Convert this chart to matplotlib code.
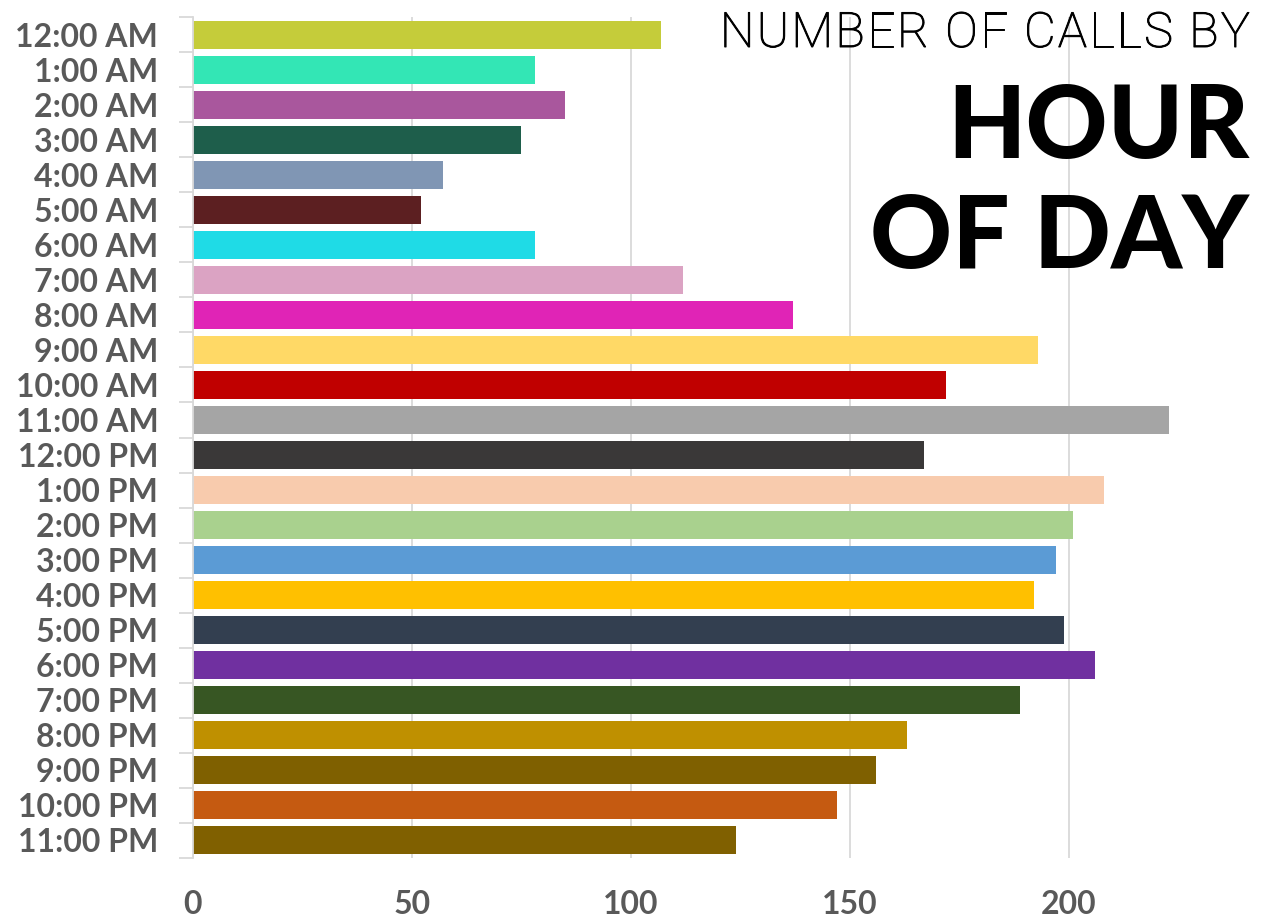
import numpy as np
import matplotlib
matplotlib.use("Agg")
import matplotlib.pyplot as plt
import matplotlib.patheffects as pe

# data
hours = ["12:00 AM", "1:00 AM", "2:00 AM", "3:00 AM", "4:00 AM", "5:00 AM",
         "6:00 AM", "7:00 AM", "8:00 AM", "9:00 AM", "10:00 AM", "11:00 AM",
         "12:00 PM", "1:00 PM", "2:00 PM", "3:00 PM", "4:00 PM", "5:00 PM",
         "6:00 PM", "7:00 PM", "8:00 PM", "9:00 PM", "10:00 PM", "11:00 PM"]
calls = [107, 78, 85, 75, 57, 52, 78, 112, 137, 193, 172, 223,
         167, 208, 201, 197, 192, 199, 206, 189, 163, 156, 147, 124]
bar_colors = ["#c5cc3a", "#33e6b5", "#a9579d", "#1e5e4b", "#8096b4", "#5c1f21",
              "#1fdbe6", "#dba3c3", "#e024b6", "#ffd966", "#c00000", "#a5a5a5",
              "#3a3838", "#f8cbad", "#a9d18e", "#5b9bd5", "#ffc000", "#333f50",
              "#7030a0", "#375623", "#bf9000", "#7f6000", "#c55a11", "#806000"]
xticks = [0, 50, 100, 150, 200]

W, H = 1263, 921
fig = plt.figure(figsize=(W / 100, H / 100), dpi=100, facecolor="white")
ax = fig.add_axes([193 / W, (H - 858) / H, (1200 - 193) / W, (858 - 17) / H])

y = np.arange(len(hours))
ax.barh(y, calls, height=0.8, color=bar_colors, zorder=2)
ax.set_ylim(len(hours) - 0.5, -0.5)
ax.set_xlim(0, 230)

ax.set_xticks(xticks)
ax.xaxis.grid(True, color="#d9d9d9", linewidth=1.3, zorder=0)
ax.set_yticks(y)
ax.set_yticklabels(hours)
ax.set_yticks(np.arange(len(hours) + 1) - 0.5, minor=True)
ax.tick_params(axis="y", which="major", length=0, pad=25)
ax.tick_params(axis="y", which="minor", length=10, color="#d9d9d9", width=1.3)
ax.tick_params(axis="x", length=0, pad=23)
for lab in ax.get_xticklabels() + ax.get_yticklabels():
    lab.set_fontfamily("Lato")
    lab.set_fontweight("bold")
    lab.set_fontsize(23)
    lab.set_color("#595959")

for s in ["top", "right", "bottom"]:
    ax.spines[s].set_visible(False)
ax.spines["left"].set_color("#d9d9d9")
ax.spines["left"].set_linewidth(1.3)

renderer = fig.canvas.get_renderer()


def char_width(c, **kw):
    if c == " ":
        a = fig.text(0, 0, "a a", **kw)
        b = fig.text(0, 0, "aa", **kw)
        w = a.get_window_extent(renderer).width - b.get_window_extent(renderer).width
        a.remove()
        b.remove()
        return w
    t = fig.text(0, 0, c, **kw)
    w = t.get_window_extent(renderer).width
    t.remove()
    return w


def tracked_text(s, x_right, y_base, width, **kw):
    # spread the letters of s so that it spans width pixels, right edge at x_right
    widths = [char_width(c, **kw) for c in s]
    gap = (width - sum(widths)) / (len(s) - 1)
    x = x_right - width
    for c, w in zip(s, widths):
        if c != " ":
            fig.text(x / W, 1 - y_base / H, c, ha="left", va="baseline", **kw)
        x += w + gap


light = dict(fontfamily="Roboto", fontweight="light", fontsize=35, color="black",
             path_effects=[pe.withStroke(linewidth=0.7, foreground="black")])
tracked_text("NUMBER OF CALLS BY", 1250, 47, 530, **light)

heavy = dict(fontfamily="Lato", fontweight="black", fontsize=73, color="black",
             ha="right", va="baseline")
fig.text(1249 / W, 1 - 158 / H, "HOUR", **heavy)
fig.text(1249 / W, 1 - 268 / H, "OF DAY", **heavy)

fig.savefig("out.png", dpi=100, facecolor="white")
